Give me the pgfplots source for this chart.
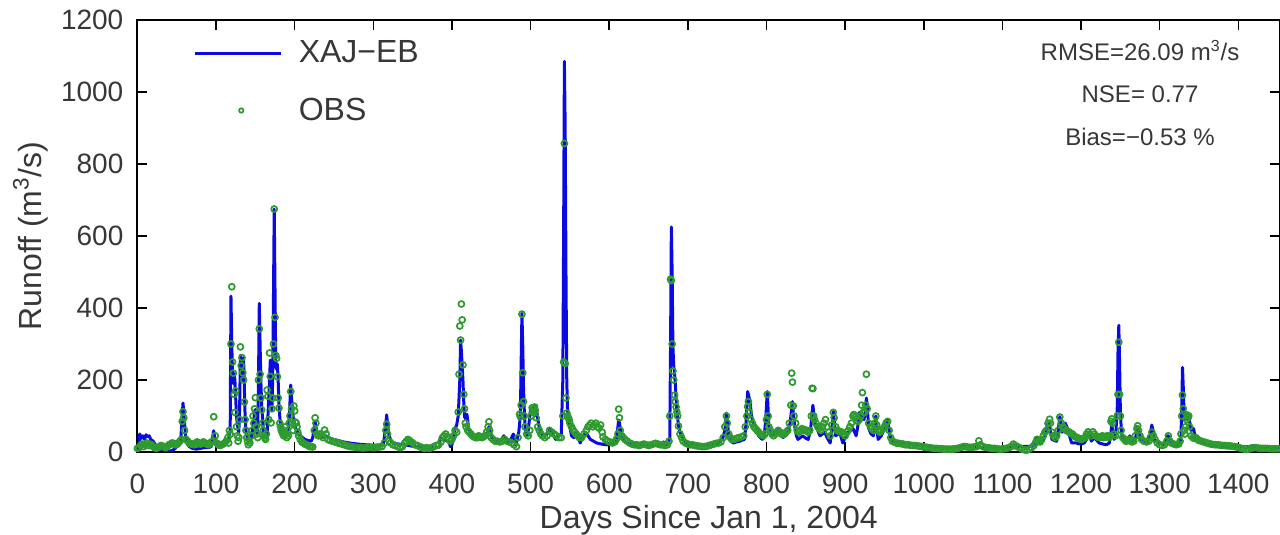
\documentclass[border=0pt]{standalone}
\usepackage{fontspec}
\setmainfont{Liberation Sans}
\usepackage{pgfplots}
\pgfplotsset{compat=1.18}
\definecolor{simblue}{RGB}{10,10,225}
\definecolor{obsgreen}{RGB}{45,155,45}
\definecolor{txt}{RGB}{55,55,55}
\pgfplotsset{
  simleg/.style={legend image code/.code={\draw[##1] (0pt,0pt) -- (43pt,0pt);}},
  obsleg/.style={legend image code/.code={\draw[mark repeat=2,mark phase=2,##1,mark size=1.1pt] plot coordinates {(0pt,0pt) (23pt,0pt) (43pt,0pt)};}},
}
\begin{document}
\begin{tikzpicture}
\path[use as bounding box] (-68.7pt,-41.5pt) rectangle (571.3pt,226pt);
\begin{axis}[
  scale only axis, width=571.3pt, height=216pt,
  xmin=0, xmax=1453, ymin=0, ymax=1200,
  xtick={0,100,...,1400}, ytick={0,200,...,1200},
  tick align=inside, major tick length=5pt,
  axis line style={line width=1pt},
  every tick/.style={black, line width=0.8pt},
  ticklabel style={font=\fontsize{14}{14}\selectfont, text=txt},
  xticklabel style={yshift=-7.5pt},
  yticklabel style={xshift=-3.5pt},
  /pgf/number format/assume math mode=true,
  /pgf/number format/1000 sep={},
  xlabel={Days Since Jan 1, 2004},
  ylabel={Runoff (m\textsuperscript{3}/s)},
  label style={font=\fontsize{16}{16}\selectfont, text=txt},
  xlabel style={at={(axis description cs:0.5,0)}, anchor=center, yshift=-34pt},
  ylabel style={at={(axis description cs:-0.0936,0.5)}, anchor=center},
  legend style={at={(rel axis cs:0.049,0.962)}, anchor=north west, draw=none, fill=none,
    font=\fontsize{16}{16}\selectfont, text=txt, row sep=12pt, inner sep=0pt,
    nodes={inner xsep=8pt}},
  legend cell align=left,
]
\addplot[simblue, line width=1.5pt, line join=round, simleg]
coordinates {
(0,8) (2,15) (3,50) (5,38) (7,45) (9,35) (11,48) (13,42) (15,45) (17,35) (20,30) (23,20) (26,12) (29,8) (33,5) (38,3) (43,3) (47,8) (50,15) (53,18) (55,30) (57,100) (58,136) (59,110) (61,50) (63,25) (66,15) (70,10) (75,8) (80,10) (85,12) (90,12) (94,15) (96,45) (97,59) (99,30) (101,15) (105,15) (110,20) (114,25) (116,35) (118,60)
(119,433) (120,300) (121,215) (122,190) (123,218) (124,200) (125,150) (126,100) (127,80) (128,65) (129,55) (130,120) (131,269) (132,240) (133,200) (134,258) (135,262) (136,180) (137,98) (138,60) (140,35) (143,25) (145,40) (147,70) (149,110) (150,118) (151,80) (152,50) (153,60) (154,200) (155,413) (156,300) (157,200) (158,130) (159,98) (160,60) (161,45) (163,40) (165,45) (166,100) (167,150) (168,200) (169,255) (170,180) (171,115) (172,200) (173,420) (174,675) (175,450) (176,240) (177,230) (178,244) (179,200) (180,133) (181,100) (182,75) (184,60) (187,45) (189,48) (191,50) (193,90) (195,186) (196,150) (198,98) (200,75) (201,65) (204,55) (207,45) (210,40) (213,35) (217,32) (221,30) (223,40) (225,70) (226,84) (227,70) (229,50) (232,45) (234,42) (236,40) (238,43) (240,45) (243,40) (249,35) (255,32) (262,28) (270,25) (280,22) (291,20) (300,19) (310,19) (313,22) (315,60) (317,103) (318,80) (320,45) (323,30) (326,25) (332,22) (340,20) (350,16) (360,14) (370,13) (380,12) (384,14) (385,40) (387,38) (389,35) (392,32) (396,30) (398,15) (400,20) (402,40) (404,65) (406,75) (408,100) (410,200) (411,311) (412,280) (413,240) (414,200) (415,140) (416,98) (418,90) (419,105) (420,90) (421,65) (423,55) (426,45) (429,40) (432,35) (436,38) (441,45) (444,50) (447,70) (449,55) (451,40) (455,32) (460,25) (463,35) (466,45) (468,35) (470,25) (474,30) (478,50) (480,30) (481,20) (483,35) (485,55) (487,100) (488,250) (489,385) (490,300) (491,180) (492,115) (493,70) (495,45) (497,60) (500,120) (502,115) (504,125) (505,100) (507,130) (508,110) (510,80) (512,60) (514,50) (517,45) (520,50) (523,55) (525,65) (528,50) (532,35) (536,45) (539,50)
(541,200) (542,600) (543,1085) (544,900) (545,500) (546,200) (547,115) (548,98) (550,70) (552,45) (555,40) (559,55) (561,40) (563,25) (566,40) (570,55) (573,45) (576,35) (580,30) (584,25) (590,22) (597,20) (603,22) (608,25) (610,50) (612,89) (613,80) (615,55) (616,45) (619,32) (622,25) (630,22) (639,20) (650,19) (664,18) (667,22) (669,28) (671,22) (673,20) (676,30) (677,40) (678,300) (679,625) (680,500) (681,293) (682,240) (683,220) (684,190) (685,150) (686,115) (688,75) (690,55) (693,40) (698,25) (705,22) (715,20) (725,21) (736,22) (740,28) (744,35) (747,60) (749,108) (750,90) (752,45) (753,35) (756,28) (758,25) (762,28) (766,30) (769,33) (772,35) (774,80) (776,168) (777,160) (779,140) (781,100) (783,80) (785,75) (787,70) (789,55) (790,45) (793,38) (795,35) (797,40) (799,90) (801,168) (802,120) (803,70) (806,50) (808,45) (812,55) (815,65) (818,50) (821,40) (824,45) (827,55) (830,80) (832,120) (833,140) (834,110) (836,70) (838,45) (840,35) (843,40) (846,45) (850,38) (853,35) (856,60) (858,110) (859,130) (860,110) (862,80) (863,75) (866,55) (868,45) (871,50) (874,55) (877,40) (881,25) (883,60) (885,112) (886,90) (888,45) (890,48) (893,55) (895,40) (897,25) (900,40) (904,55) (907,60) (910,65) (912,55) (914,45) (916,70) (918,110) (920,95) (922,100) (924,90) (926,120) (927,150) (928,130) (930,65) (933,50) (936,45) (938,80) (939,100) (940,70) (942,35) (944,40) (946,45) (948,55) (950,65) (952,75) (954,90) (955,75) (957,45) (959,35) (961,30) (965,27) (970,25) (980,22) (991,20) (1000,18) (1012,15) (1022,14) (1033,12) (1045,14) (1050,15) (1053,20) (1055,15) (1065,14) (1076,12) (1090,12) (1100,12) (1110,14) (1114,20) (1117,15) (1125,15) (1135,16) (1140,20) (1142,30) (1144,40) (1146,32) (1148,25) (1151,30) (1154,45) (1156,65) (1158,80) (1159,85) (1160,75) (1162,45) (1163,35) (1166,32) (1169,30) (1171,60) (1173,98) (1174,90) (1176,55) (1178,60) (1180,80) (1182,70) (1184,55) (1186,40) (1188,25) (1191,25) (1194,25) (1197,23) (1200,22) (1204,25) (1207,35) (1209,45) (1210,50) (1212,40) (1213,30) (1215,35) (1217,40) (1219,35) (1223,25) (1228,22) (1232,20) (1236,25) (1238,50) (1239,80) (1240,60) (1242,35) (1244,45) (1246,120) (1247,280) (1248,352) (1249,250) (1250,115) (1251,70) (1252,45) (1255,35) (1258,25) (1260,35) (1262,45) (1264,35) (1266,25) (1269,35) (1271,60) (1272,70) (1274,55) (1276,35) (1280,28) (1285,25) (1288,50) (1290,75) (1291,65) (1293,35) (1297,28) (1304,20) (1308,30) (1310,45) (1311,45) (1313,30) (1314,20) (1320,18) (1325,20) (1327,40) (1328,120) (1329,235) (1330,180) (1331,105) (1333,90) (1334,95) (1336,100) (1337,95) (1339,75) (1340,60) (1342,65) (1343,65) (1345,45) (1346,35) (1348,38) (1350,40) (1352,30) (1354,25) (1360,22) (1371,18) (1380,17) (1392,15) (1410,14) (1416,16) (1418,18) (1420,15) (1426,12) (1440,12) (1453,12)
};
\addlegendentry{XAJ−EB}
\addplot[only marks, mark=o, mark size=1.5pt, obsgreen, mark options={line width=0.85pt}, obsleg]
coordinates {
(0,10) (2,12) (4,18) (6,22) (8,15) (10,20) (12,25) (14,18) (16,22) (18,20) (20,15) (22,12) (24,10) (26,12) (28,15) (30,18) (32,16) (34,14) (36,12) (38,15) (40,20) (42,22) (44,25) (46,24) (48,20) (50,22) (52,25) (54,30) (56,35) (57,85) (58,112) (59,95) (60,60) (62,35) (64,30) (66,25) (68,22) (70,22) (72,20) (74,24) (76,28) (78,25) (80,22) (82,24) (84,28) (86,25) (88,22) (90,20) (92,22) (94,28) (96,30) (97,98) (99,45) (101,25) (103,20) (105,18) (107,20) (109,22) (111,25) (113,30) (115,40) (116,25) (117,60) (118,50)
(119,300) (120,459) (121,250) (122,219) (123,160) (124,110) (125,170) (126,70) (127,45) (128,30) (129,40) (130,90) (131,292) (132,240) (133,262) (134,220) (135,200) (136,139) (137,90) (138,60) (139,40) (140,30) (141,20) (143,25) (145,45) (146,60) (147,100) (148,80) (149,120) (150,151) (151,70) (152,50) (153,40) (154,200) (155,342) (156,216) (157,150) (158,117) (159,80) (160,60) (161,45) (162,40) (163,35) (164,50) (165,172) (166,155) (167,90) (168,275) (169,210) (170,81) (171,120) (172,150) (173,300) (174,675) (175,374) (176,268) (177,260) (178,209) (179,150) (180,122) (181,80) (182,70) (183,60) (184,55) (185,50) (186,45) (187,60) (188,70) (189,50) (190,40) (192,45) (193,80) (194,100) (195,168) (196,120) (197,80) (198,60) (199,128) (200,114) (201,83) (202,80) (203,70) (204,55) (205,45) (207,35) (209,28) (211,25) (213,22) (215,20) (217,18) (219,15) (221,15) (223,14) (225,60) (226,95) (227,80) (228,50) (230,45) (232,50) (234,45) (236,40) (238,61) (240,50) (242,35) (245,32) (248,30) (251,28) (254,26) (257,24) (260,22) (263,20) (266,18) (269,16) (272,15) (275,14) (278,13) (281,12) (284,12) (287,11) (290,12) (293,12) (296,13) (299,12) (302,12) (305,13) (308,14) (311,15) (314,25) (316,60) (317,77) (318,50) (320,30) (322,25) (325,20) (328,18) (331,15) (334,12) (337,15) (340,25) (342,30) (344,35) (346,32) (348,28) (350,25) (353,20) (356,18) (359,15) (362,12) (365,10) (368,12) (371,10) (374,12) (377,15) (380,18) (383,20) (386,28) (388,40) (390,45) (392,50) (394,42) (396,35) (398,30) (400,35) (402,45) (404,60) (406,55) (408,111) (409,216) (410,350) (411,311) (412,411) (413,367) (414,242) (415,160) (416,120) (417,80) (418,70) (420,60) (422,55) (424,50) (426,45) (428,42) (430,40) (432,40) (434,45) (436,42) (438,40) (440,42) (442,45) (444,55) (446,70) (447,84) (448,60) (450,40) (452,35) (455,30) (458,30) (461,28) (464,30) (467,35) (470,30) (473,28) (476,25) (479,20) (482,15) (484,40) (486,105) (487,98) (488,130) (489,383) (490,220) (491,140) (492,100) (493,70) (495,50) (497,45) (499,60) (501,100) (502,123) (503,110) (504,120) (505,125) (506,115) (507,95) (509,70) (511,60) (513,50) (515,45) (518,40) (521,45) (524,60) (527,55) (530,50) (533,45) (536,40) (539,40)
(541,100) (542,250) (543,857) (544,246) (545,150) (546,108) (547,100) (548,95) (549,90) (550,80) (552,70) (554,62) (556,55) (558,50) (560,45) (562,40) (565,40) (568,50) (571,60) (573,70) (575,75) (577,80) (579,70) (581,75) (583,80) (585,70) (587,66) (589,75) (591,55) (592,42) (595,35) (598,30) (601,28) (604,25) (607,28) (609,35) (611,50) (612,119) (613,95) (614,60) (616,45) (618,40) (620,35) (623,30) (626,25) (629,22) (632,20) (635,20) (638,18) (641,20) (644,22) (647,20) (650,18) (653,20) (656,22) (659,24) (662,22) (665,20) (668,20) (671,18) (674,20) (676,30) (677,100) (678,480) (679,476) (680,300) (681,225) (682,200) (683,158) (684,140) (685,125) (686,111) (687,100) (688,72) (690,50) (692,40) (694,30) (697,25) (700,22) (703,20) (706,20) (709,18) (712,17) (715,16) (718,15) (721,15) (724,16) (727,18) (730,20) (733,22) (736,24) (739,25) (742,28) (745,40) (747,70) (749,100) (750,80) (752,50) (754,40) (756,35) (759,35) (762,38) (765,40) (768,42) (771,45) (773,70) (775,100) (776,126) (777,140) (778,110) (780,90) (782,80) (784,70) (786,65) (788,60) (790,55) (792,50) (794,48) (796,45) (798,50) (800,90) (801,160) (802,100) (803,70) (805,60) (807,50) (809,45) (811,50) (813,55) (815,60) (817,55) (819,50) (821,48) (823,50) (825,55) (827,60) (829,80) (831,130) (832,219) (833,194) (834,128) (835,100) (837,80) (839,60) (841,55) (843,60) (845,65) (847,60) (849,62) (851,58) (853,55) (855,60) (857,100) (858,177) (859,176) (860,100) (861,90) (863,80) (865,70) (867,65) (869,60) (871,70) (873,80) (875,90) (877,70) (879,55) (881,45) (883,75) (885,110) (886,95) (888,70) (890,60) (892,58) (894,56) (896,55) (898,50) (900,45) (902,55) (904,60) (906,70) (908,80) (910,100) (911,104) (913,97) (914,100) (916,85) (918,90) (920,100) (921,130) (922,165) (923,110) (925,110) (926,130) (927,216) (928,120) (930,80) (932,70) (934,65) (936,60) (938,80) (939,100) (940,75) (942,60) (944,55) (946,60) (948,65) (950,70) (952,80) (954,85) (956,60) (958,40) (960,30) (962,28) (965,25) (968,24) (971,23) (974,22) (977,20) (980,20) (983,19) (986,18) (989,18) (992,17) (995,16) (998,15)
(1001,14) (1004,13) (1007,12) (1010,11) (1013,10) (1016,10) (1019,9) (1022,9) (1025,8) (1028,8) (1031,8) (1034,8) (1037,8) (1040,9) (1043,10) (1046,12) (1049,14) (1052,15) (1055,14) (1058,13) (1061,13) (1064,14) (1067,15) (1070,31) (1072,20) (1075,15) (1078,13) (1081,12) (1084,11) (1087,10) (1090,10) (1093,9) (1096,8) (1099,8) (1102,9) (1105,10) (1108,12) (1111,15) (1114,22) (1116,18) (1119,15) (1122,12) (1125,8) (1128,6) (1131,5) (1134,8) (1137,12) (1140,18) (1142,25) (1144,35) (1146,30) (1148,28) (1150,35) (1152,45) (1154,55) (1156,60) (1158,80) (1160,91) (1161,80) (1163,55) (1165,45) (1167,40) (1169,45) (1171,60) (1173,97) (1175,80) (1177,70) (1179,65) (1181,60) (1183,58) (1185,55) (1187,52) (1189,50) (1191,45) (1193,42) (1195,40) (1197,38) (1199,36) (1201,35) (1203,38) (1205,40) (1207,50) (1209,56) (1211,50) (1213,45) (1215,56) (1217,50) (1219,45) (1221,42) (1223,40) (1225,42) (1227,45) (1229,40) (1231,42) (1233,45) (1235,40) (1237,45) (1238,85) (1239,92) (1240,80) (1242,50) (1244,45) (1246,100) (1247,160) (1248,305) (1249,160) (1250,100) (1251,60) (1253,40) (1255,35) (1257,30) (1259,32) (1261,35) (1263,30) (1265,28) (1267,30) (1269,45) (1271,65) (1272,73) (1273,60) (1275,45) (1277,35) (1280,30) (1283,28) (1286,30) (1288,40) (1290,55) (1292,45) (1294,35) (1297,25) (1300,20) (1303,18) (1306,20) (1309,30) (1311,45) (1313,30) (1315,25) (1318,22) (1321,20) (1324,22) (1326,30) (1327,50) (1328,100) (1329,158) (1330,120) (1331,60) (1332,50) (1333,70) (1334,90) (1335,103) (1336,95) (1337,100) (1338,70) (1340,45) (1342,40) (1344,38) (1346,40) (1348,35) (1350,32) (1353,30) (1356,28) (1359,26) (1362,24) (1365,22) (1368,21) (1371,20) (1374,20) (1377,19) (1380,18) (1383,18) (1386,17) (1389,17) (1392,16) (1395,15) (1398,14) (1401,12) (1404,10) (1407,8) (1410,7) (1413,8) (1416,10) (1419,12) (1422,12) (1425,11) (1428,10) (1431,10) (1434,10) (1437,10) (1440,9) (1443,9) (1446,9) (1449,9) (1452,9)
};
\addlegendentry{OBS}
\node[font=\fontsize{12}{12}\selectfont, text=txt] at (axis cs:1275,1115) {RMSE=26.09 m\textsuperscript{3}/s};
\node[font=\fontsize{12}{12}\selectfont, text=txt] at (axis cs:1275,994) {NSE= 0.77};
\node[font=\fontsize{12}{12}\selectfont, text=txt] at (axis cs:1275,875) {Bias=−0.53 \%};
\end{axis}
\end{tikzpicture}
\end{document}
